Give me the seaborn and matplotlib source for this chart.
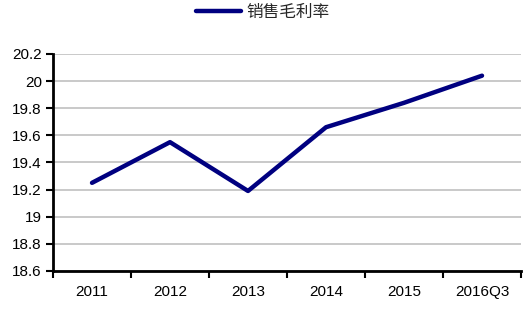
import matplotlib
matplotlib.use("Agg")
import matplotlib.pyplot as plt
import seaborn as sns
import pandas as pd
from matplotlib.ticker import FixedLocator

categories = ["2011", "2012", "2013", "2014", "2015", "2016Q3"]
values = [19.25, 19.55, 19.19, 19.66, 19.84, 20.04]
series_name = "销售毛利率"
y_ticks = [18.6, 18.8, 19.0, 19.2, 19.4, 19.6, 19.8, 20.0, 20.2]
y_labels = ["18.6", "18.8", "19", "19.2", "19.4", "19.6", "19.8", "20", "20.2"]

sns.set_theme(style="white")
plt.rcParams['font.family'] = ['Liberation Sans', 'Noto Sans CJK SC', 'DejaVu Sans']

df = pd.DataFrame({"x": list(range(len(categories))), "y": values, "s": series_name})

fig = plt.figure(figsize=(5.26, 3.27), dpi=100)
ax = fig.add_axes([0.1008, 0.1713, 0.8897, 0.6636])

sns.lineplot(data=df, x="x", y="y", hue="s", palette=["#000080"], linewidth=3.2,
             ax=ax, legend=True)

ax.set_xlim(-0.5, len(categories) - 0.5)
ax.set_ylim(18.6, 20.2)
ax.set_yticks(y_ticks)
ax.set_yticklabels(y_labels, fontsize=11, color="black")
ax.set_xticks(range(len(categories)))
ax.set_xticklabels(categories, fontsize=11, color="black")
ax.xaxis.set_minor_locator(FixedLocator([i + 0.5 for i in range(-1, len(categories))]))
ax.tick_params(axis="x", which="major", length=0, pad=10)
ax.tick_params(axis="x", which="minor", length=5, width=1.5, direction="out", color="black", bottom=True)
ax.tick_params(axis="y", length=5, width=1.5, direction="out", color="black", left=True, pad=3)
ax.set_xlabel("")
ax.set_ylabel("")

ax.grid(axis="y", color="#c0c0c0", linewidth=1.2)
ax.set_axisbelow(True)
for side in ["top", "right"]:
    ax.spines[side].set_visible(False)
for side in ["left", "bottom"]:
    ax.spines[side].set_color("black")
    ax.spines[side].set_linewidth(2)

handles, labels = ax.get_legend_handles_labels()
ax.legend(handles, labels, loc="center", bbox_to_anchor=(0.5, 1.0 - 12 / 327), bbox_transform=fig.transFigure,
          frameon=False, prop={"family": ["Noto Sans CJK SC", "DejaVu Sans"], "size": 12},
          handlelength=2.7, handletextpad=0.3)

fig.savefig("out.png", dpi=100)
